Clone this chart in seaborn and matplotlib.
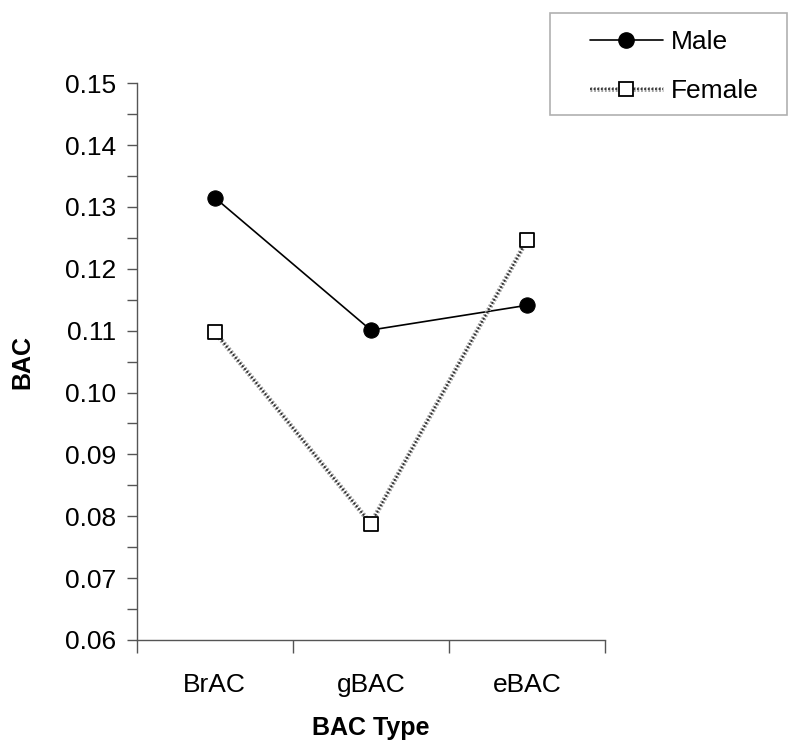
import matplotlib
matplotlib.use("Agg")
import matplotlib.pyplot as plt
import matplotlib.patheffects as pe
from matplotlib.lines import Line2D
from matplotlib.patches import Rectangle
import seaborn as sns
import pandas as pd

categories = ["BrAC", "gBAC", "eBAC"]
male = [0.1315, 0.1101, 0.1141]
female = [0.1098, 0.0788, 0.1246]

sns.set_style("white")
plt.rcParams['font.family'] = ['Liberation Sans', 'DejaVu Sans']
plt.rcParams['text.color'] = 'black'
plt.rcParams['axes.labelcolor'] = 'black'
plt.rcParams['xtick.color'] = 'black'
plt.rcParams['ytick.color'] = 'black'

df = pd.DataFrame({
    "type": categories * 2,
    "BAC": male + female,
    "sex": ["Male"] * 3 + ["Female"] * 3,
})

fig = plt.figure(figsize=(8, 7.5), dpi=100)
ax = fig.add_axes([0.171, 0.1467, 0.585, 0.7423])

dm = df[df.sex == "Male"]
dfe = df[df.sex == "Female"]
sns.lineplot(data=dm, x="type", y="BAC", ax=ax, color="black", linewidth=1.2,
             marker="o", markersize=11, markerfacecolor="black",
             markeredgecolor="black", sort=False, legend=False)
fem_fx = [pe.Stroke(linewidth=3.5, foreground="#9a9a9a"), pe.Normal()]
sns.lineplot(data=dfe, x="type", y="BAC", ax=ax, color="#303030", linewidth=1.3,
             linestyle=(0, (1, 1)), sort=False, legend=False,
             path_effects=fem_fx)
sns.scatterplot(data=dfe, x="type", y="BAC", ax=ax, marker="s", s=105,
                facecolor="white", edgecolor="black", linewidth=1.3,
                zorder=5, legend=False)

ax.set_xlim(-0.5, 2.5)
ax.set_ylim(0.06, 0.15)
ax.set_xticks([0, 1, 2])
ax.set_xticklabels(categories)
ax.set_xticks([-0.5, 0.5, 1.5, 2.5], minor=True)
ax.tick_params(axis="x", which="major", length=0, pad=23.5, labelsize=19)
ax.tick_params(axis="x", which="minor", length=9, width=1, color="#555555",
               direction="out", bottom=True)
yt = [0.06 + 0.01 * i for i in range(10)]
ax.set_yticks(yt)
ax.set_yticklabels([f"{v:.2f}" for v in yt])
ax.set_yticks([0.065 + 0.01 * i for i in range(9)], minor=True)
ax.tick_params(axis="y", which="both", length=7, width=1, color="#555555",
               direction="out", left=True, labelsize=19, pad=8)
for s in ["top", "right"]:
    ax.spines[s].set_visible(False)
for s in ["left", "bottom"]:
    ax.spines[s].set_color("#555555")
    ax.spines[s].set_linewidth(1)

ax.set_xlabel("BAC Type", fontsize=18, fontweight="bold", labelpad=14)
ax.set_ylabel("BAC", fontsize=18, fontweight="bold", labelpad=22)

h_m = Line2D([], [], color="black", linewidth=1.2, marker="o", markersize=11)
h_fl = Line2D([], [], color="#303030", linewidth=1.3, linestyle=(0, (1, 1)),
              path_effects=fem_fx)
h_fm = Line2D([], [], linestyle="none", marker="s", markersize=10,
              markerfacecolor="white", markeredgecolor="black",
              markeredgewidth=1.3)
leg = fig.legend([h_m, (h_fl, h_fm)], ["Male", "Female"], loc="center left",
                 bbox_to_anchor=(577 / 800, 1 - 66.5 / 750), frameon=False,
                 fontsize=19, handlelength=2.75, borderpad=0,
                 labelspacing=0.95, handletextpad=0.3)
fig.patches.append(Rectangle((550 / 800, 1 - 115 / 750), 237 / 800, 102 / 750,
                             transform=fig.transFigure, fill=False,
                             edgecolor="#b0b0b0", linewidth=1.2))

fig.savefig("out.png", dpi=100)
